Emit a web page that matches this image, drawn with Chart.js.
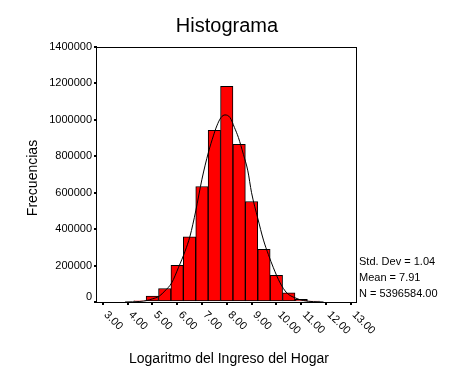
<!DOCTYPE html>
<html>
<head>
<meta charset="utf-8">
<script src="https://cdn.jsdelivr.net/npm/chart.js"></script>
<style>
  html, body { margin: 0; padding: 0; background: #fff; }
</style>
</head>
<body>
<canvas id="chart" width="472" height="377"></canvas>
<script>
// Histogram bins (centers) and frequencies
const binCenters = [4.5, 5.0, 5.5, 6.0, 6.5, 7.0, 7.5, 8.0, 8.5, 9.0, 9.5, 10.0, 10.5, 11.0, 11.5];
const binCounts = [6000, 32000, 74000, 201000, 358000, 634000, 943000, 1184000, 866000, 552000, 289000, 146000, 51000, 14000, 5000];

// Normal curve, points
const curveX = [3.9, 4.5, 4.77, 5.0, 5.28, 5.5, 5.78, 6.05, 6.32, 6.52, 6.75, 7.0, 7.26, 7.46, 7.6, 7.77, 7.93, 8.13, 8.31, 8.47, 8.67, 8.85, 9.0, 9.25, 9.48, 9.68, 9.88, 10.15, 10.42, 10.75, 11.09, 11.5, 11.9];
const curveY = [0, 3000, 8000, 17000, 32000, 60000, 105000, 188000, 279000, 362000, 500000, 674000, 821000, 912000, 967000, 1013000, 1027000, 1013000, 958000, 903000, 811000, 720000, 600000, 460000, 340000, 260000, 188000, 105000, 50000, 23000, 8000, 2000, 0];

const xTicks = [3, 4, 5, 6, 7, 8, 9, 10, 11, 12, 13];
const yTicks = [0, 200000, 400000, 600000, 800000, 1000000, 1200000, 1400000];
const statLines = ['Std. Dev = 1.04', 'Mean = 7.91', 'N = 5396584.00'];

const FONT = "'Liberation Sans', Arial, sans-serif";

// Draws the frame, titles, tick labels and the stats box
const decorations = {
  id: 'decorations',
  afterDraw(chart) {
    const ctx = chart.ctx;
    const area = chart.chartArea;
    const xs = chart.scales.x;
    const ys = chart.scales.y;
    ctx.save();
    ctx.fillStyle = '#000';
    ctx.strokeStyle = '#000';

    // plot frame
    ctx.lineWidth = 1;
    ctx.strokeRect(Math.round(area.left) - 0.5, Math.round(area.top) + 0.5,
      Math.round(area.right - area.left), Math.round(area.bottom - area.top));

    // title
    ctx.font = '20px ' + FONT;
    ctx.textAlign = 'center';
    ctx.textBaseline = 'alphabetic';
    ctx.fillText('Histograma', 227, 32);

    // axis titles
    ctx.font = '14px ' + FONT;
    ctx.fillText('Logaritmo del Ingreso del Hogar', 229, 363);
    ctx.save();
    ctx.translate(37, 178);
    ctx.rotate(-Math.PI / 2);
    ctx.fillText('Frecuencias', 0, 0);
    ctx.restore();

    // y tick labels
    ctx.font = '11px ' + FONT;
    ctx.textAlign = 'right';
    ctx.textBaseline = 'middle';
    yTicks.forEach(v => {
      let y = ys.getPixelForValue(v);
      if (v === 0) y -= 5;
      ctx.fillText(String(v), 92, y);
    });

    // x tick labels, rotated downwards
    ctx.textAlign = 'left';
    xTicks.forEach(v => {
      const x = xs.getPixelForValue(v);
      ctx.save();
      ctx.translate(x + 3, 313);
      ctx.rotate(Math.PI / 4);
      ctx.fillText(v.toFixed(2), 0, 0);
      ctx.restore();
    });

    // stats
    statLines.forEach((t, i) => {
      ctx.fillText(t, 359, 262 + i * 16);
    });
    ctx.restore();
  }
};

new Chart(document.getElementById('chart'), {
  type: 'bar',
  data: {
    datasets: [
      {
        type: 'line',
        data: curveX.map((x, i) => ({ x: x, y: curveY[i] })),
        borderColor: '#000',
        borderWidth: 1,
        pointRadius: 0,
        fill: false,
        cubicInterpolationMode: 'monotone',
        order: 0
      },
      {
        type: 'bar',
        data: binCenters.map((x, i) => ({ x: x, y: binCounts[i] })),
        backgroundColor: '#ff0000',
        borderColor: '#000',
        borderWidth: 1,
        borderSkipped: false,
        barPercentage: 1,
        categoryPercentage: 1,
        order: 1
      }
    ]
  },
  options: {
    responsive: false,
    animation: false,
    devicePixelRatio: 1,
    layout: { padding: { left: 0, top: 47, right: 115, bottom: 0 } },
    plugins: {
      legend: { display: false },
      tooltip: { enabled: false }
    },
    scales: {
      x: {
        type: 'linear',
        min: 2.77,
        max: 13.25,
        offset: false,
        afterBuildTicks: s => { s.ticks = xTicks.map(v => ({ value: v })); },
        afterFit: s => { s.height = 75; },
        ticks: { display: false },
        border: { display: false },
        grid: { offset: false, drawOnChartArea: false, drawTicks: true, tickLength: 3, color: '#000', lineWidth: 2 }
      },
      y: {
        type: 'linear',
        min: 0,
        max: 1400000,
        afterBuildTicks: s => { s.ticks = yTicks.map(v => ({ value: v })); },
        afterFit: s => { s.width = 97; },
        ticks: { display: false },
        border: { display: false },
        grid: { drawOnChartArea: false, drawTicks: true, tickLength: 3, color: '#000', lineWidth: 2 }
      }
    }
  },
  plugins: [decorations]
});
</script>
</body>
</html>
